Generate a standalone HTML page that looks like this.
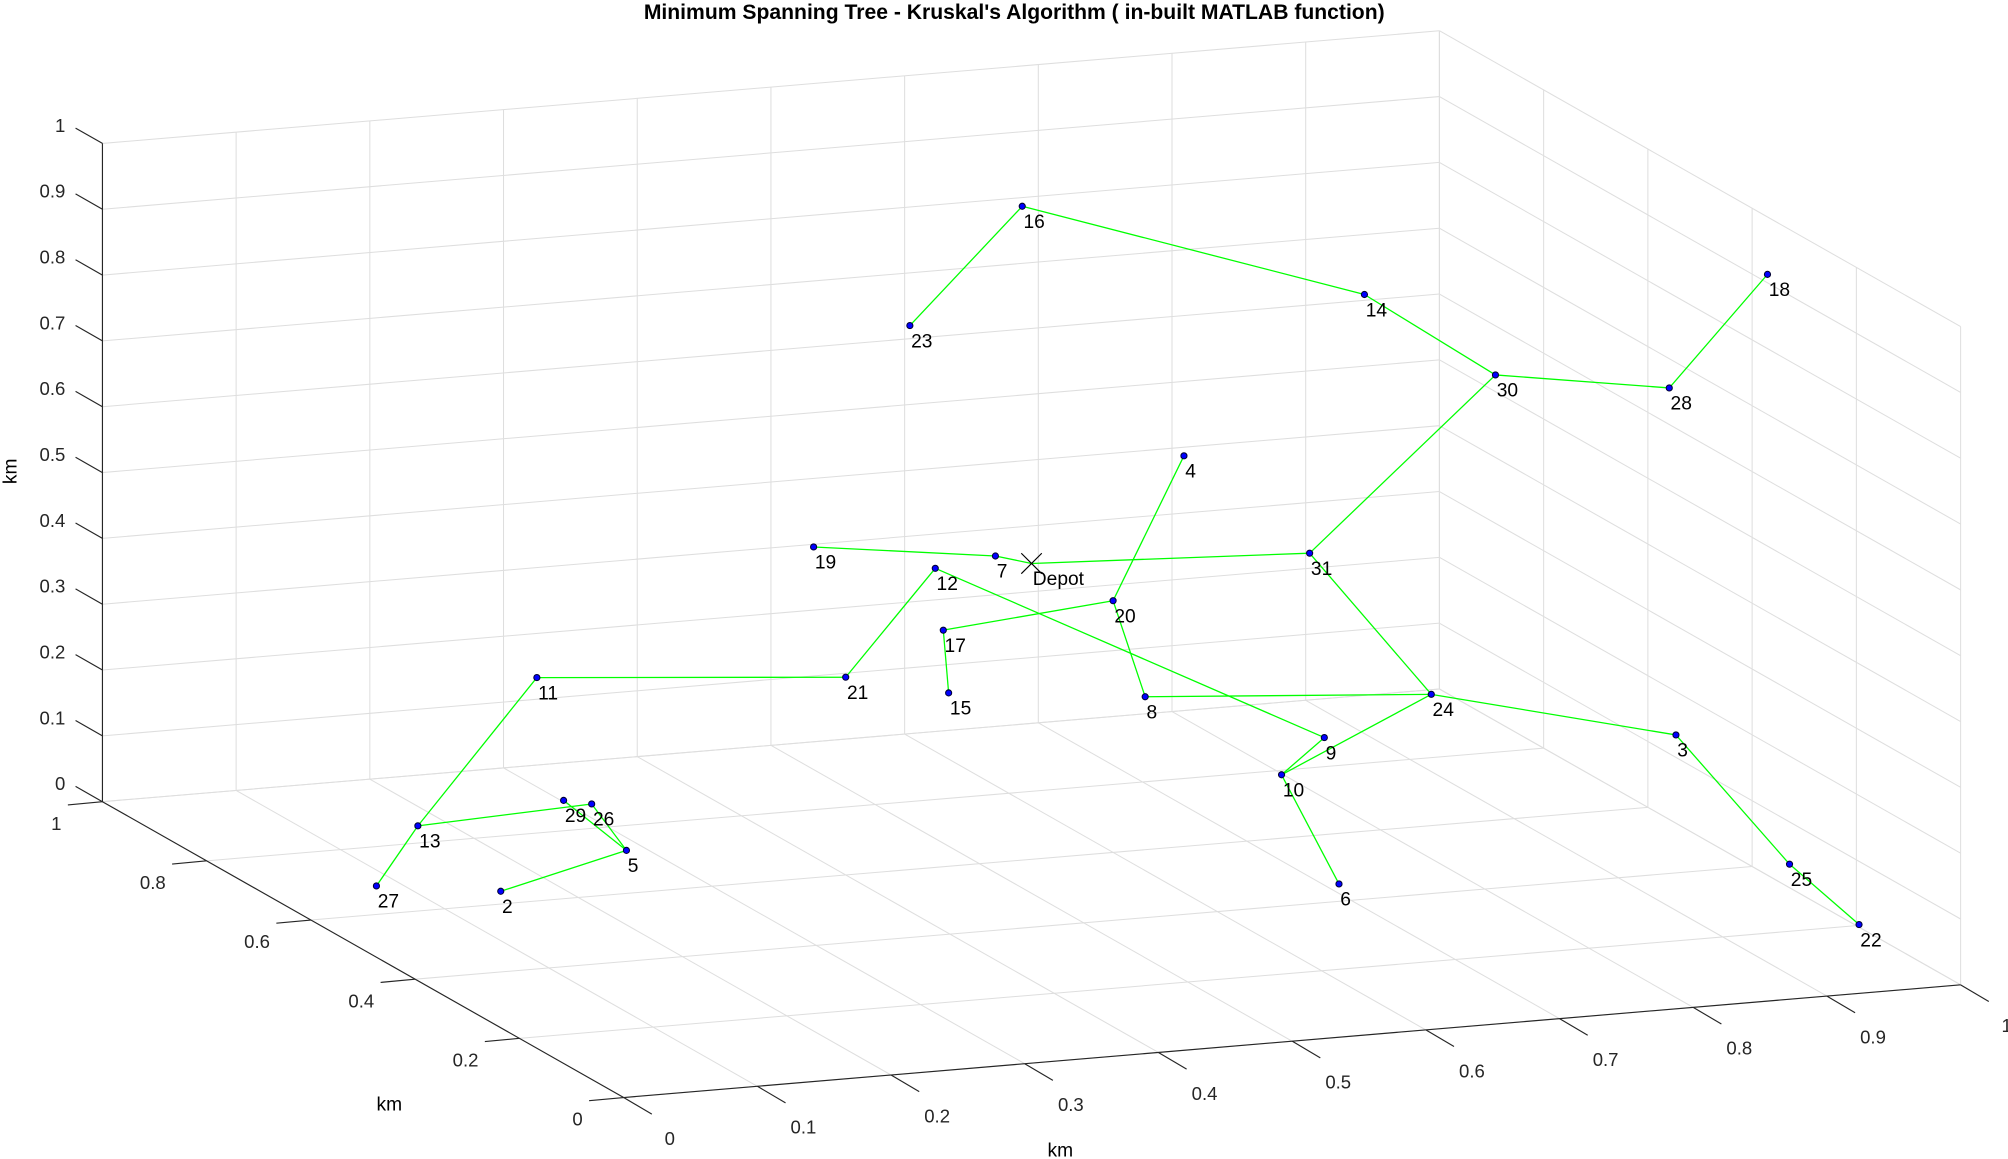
<!DOCTYPE html>
<html><head><meta charset="utf-8"><style>
html,body{margin:0;padding:0;background:#fff;}
svg{display:block;font-family:"Liberation Sans",sans-serif;}
</style></head><body>
<svg id="chart" width="2008" height="1159" viewBox="0 0 1568 905" preserveAspectRatio="none" xmlns="http://www.w3.org/2000/svg">
<text x="792" y="15" text-anchor="middle" font-weight="bold" font-size="16.5" fill="#000">Minimum Spanning Tree - Kruskal's Algorithm ( in-built MATLAB function)</text>
<g id="grid"></g>
<g id="axes"></g>
<g id="edges"></g>
<g id="nodes"></g>
<text x="828" y="903" text-anchor="middle" font-size="15">km</text>
<text x="304" y="867" text-anchor="middle" font-size="15">km</text>
<text x="13" y="368" text-anchor="middle" font-size="15" transform="rotate(-90 13 368)">km</text>
</svg>
<script>
const nodeNames = ["Depot","2","3","4","5","6","7","8","9","10","11","12","13","14","15","16","17","18","19","20","21","22","23","24","25","26","27","28","29","30","31"];
const xs = [0.500,0.103,0.982,0.614,0.197,0.652,0.473,0.585,0.719,0.687,0.130,0.428,0.041,0.749,0.438,0.610,0.434,0.953,0.337,0.561,0.361,0.963,0.409,0.799,0.950,0.171,0.010,0.977,0.150,0.847,0.708];
const ys = [0.50,0.50,0.50,0.50,0.50,0.30,0.50,0.50,0.50,0.50,0.50,0.50,0.50,0.50,0.50,0.80,0.50,0.25,0.50,0.50,0.50,0.10,0.50,0.50,0.20,0.50,0.50,0.50,0.50,0.50,0.50];
const zs = [0.501,0.071,0.158,0.645,0.117,0.078,0.517,0.284,0.199,0.148,0.391,0.506,0.181,0.867,0.315,0.890,0.411,0.975,0.554,0.434,0.352,0.053,0.878,0.251,0.102,0.192,0.095,0.686,0.201,0.728,0.481];
const edgeFrom = ["23","16","14","30","28","30","31","Depot","7","4","20","17","20","8","24","24","3","25","24","9","12","10","12","21","11","13","13","29","26","5"];
const edgeTo   = ["16","14","30","28","18","31","Depot","7","19","20","17","15","8","24","31","3","25","22","10","10","9","6","21","11","13","27","26","5","5","2"];
const tickValues = [0,0.1,0.2,0.3,0.4,0.5,0.6,0.7,0.8,0.9,1];
const yTickValues = [0,0.2,0.4,0.6,0.8,1];
const xTickLabels = ["0","0.1","0.2","0.3","0.4","0.5","0.6","0.7","0.8","0.9","1"];
const yTickLabels = ["0","0.2","0.4","0.6","0.8","1"];
const zTickLabels = ["0","0.1","0.2","0.3","0.4","0.5","0.6","0.7","0.8","0.9","1"];

const NS="http://www.w3.org/2000/svg";
function proj(x,y,z){return [487+1044*x-407*y, 857-88*x-231*y-514*z];}
function line(g,a,b,stroke,w){
  const l=document.createElementNS(NS,'line');
  l.setAttribute('x1',a[0]);l.setAttribute('y1',a[1]);l.setAttribute('x2',b[0]);l.setAttribute('y2',b[1]);
  l.setAttribute('stroke',stroke);l.setAttribute('stroke-width',w);
  g.appendChild(l);return l;
}
function text(g,x,y,s,anchor,size){
  const t=document.createElementNS(NS,'text');
  t.setAttribute('x',x);t.setAttribute('y',y);t.setAttribute('text-anchor',anchor);t.setAttribute('font-size',size);
  t.setAttribute('fill','#262626');t.textContent=s;g.appendChild(t);return t;
}
const grid=document.getElementById('grid');
const GC='#dedede';
tickValues.forEach(v=>{
  let l;
  l=line(grid,proj(v,0,0),proj(v,1,0),GC,0.8);
  
  
  l=line(grid,proj(v,1,0),proj(v,1,1),GC,0.8);
  
  
  l=line(grid,proj(0,1,v),proj(1,1,v),GC,0.8);
  
  
  l=line(grid,proj(1,0,v),proj(1,1,v),GC,0.8);
  
  
});
yTickValues.forEach(v=>{
  let l;
  l=line(grid,proj(0,v,0),proj(1,v,0),GC,0.8);
  
  
  l=line(grid,proj(1,v,0),proj(1,v,1),GC,0.8);
  
  
});
const axes=document.getElementById('axes');
const AC='#262626';
let a;
a=line(axes,proj(0,0,0),proj(1,0,0),AC,0.9);


a=line(axes,proj(0,0,0),proj(0,1,0),AC,0.9);


a=line(axes,proj(0,1,0),proj(0,1,1),AC,0.9);


tickValues.forEach((v,i)=>{
  let p=proj(v,0,0),l,t;
  l=line(axes,p,[p[0]+22,p[1]+13],AC,0.9);
  
  
  t=text(axes,p[0]+36,p[1]+37,xTickLabels[i],'middle',14.5);
  
  
  p=proj(0,1,v);
  l=line(axes,p,[p[0]-21,p[1]-12],AC,0.9);
  
  
  t=text(axes,p[0]-29,p[1]-9,zTickLabels[i],'end',14.5);
  
  
});
yTickValues.forEach((v,i)=>{
  const p=proj(0,v,0);
  const l=line(axes,p,[p[0]-27,p[1]+2.5],AC,0.9);
  
  
  const t=text(axes,p[0]-32,p[1]+22,yTickLabels[i],'end',14.5);
  
  
});
const eg=document.getElementById('edges');
function idx(n){return nodeNames.indexOf(n);}
edgeFrom.forEach((f,k)=>{
  const i=idx(f),j=idx(edgeTo[k]);
  const l=line(eg,proj(xs[i],ys[i],zs[i]),proj(xs[j],ys[j],zs[j]),'#00ff00',1);
  
  
});
const ng=document.getElementById('nodes');
nodeNames.forEach((n,i)=>{
  const p=proj(xs[i],ys[i],zs[i]);
  if(n==='Depot'){
    const g=document.createElementNS(NS,'path');
    g.setAttribute('d',`M${p[0]-8} ${p[1]-8}L${p[0]+8} ${p[1]+8}M${p[0]-8} ${p[1]+8}L${p[0]+8} ${p[1]-8}`);
    g.setAttribute('stroke','#000');g.setAttribute('stroke-width','0.9');
    
    
    ng.appendChild(g);
  } else {
    const c=document.createElementNS(NS,'circle');
    c.setAttribute('cx',p[0]);c.setAttribute('cy',p[1]);c.setAttribute('r','2.4');
    c.setAttribute('fill','#0000ff');c.setAttribute('stroke','#000033');c.setAttribute('stroke-width','0.8');
    
    
    ng.appendChild(c);
  }
  const t=text(ng,p[0]+1,p[1]+17,n,'start',15);
  t.setAttribute('fill','#000');
  
  
});
</script>
</body></html>
